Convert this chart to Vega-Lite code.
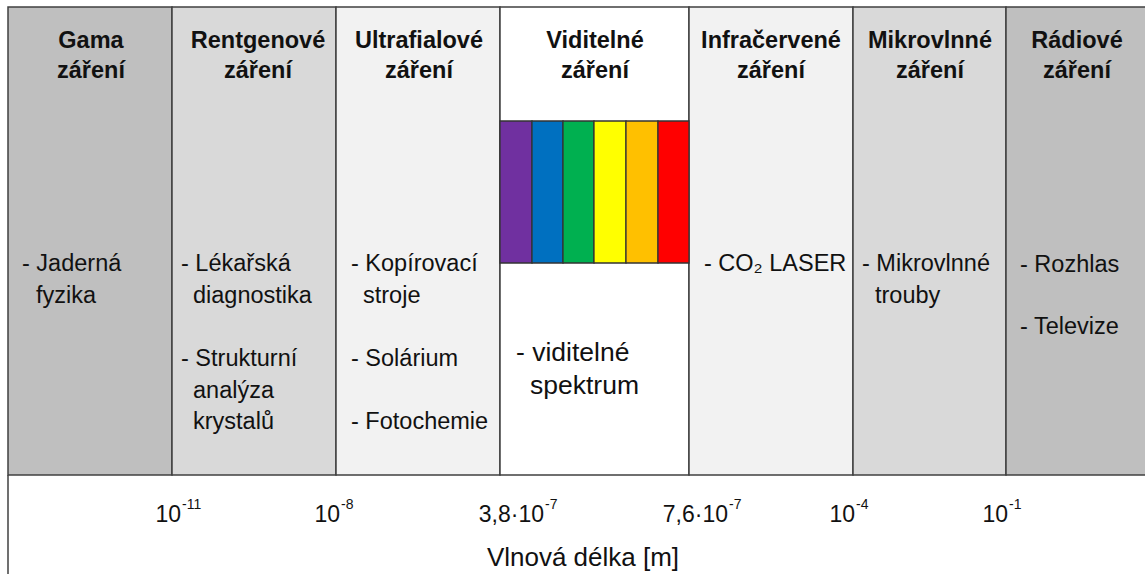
{
  "$schema": "https://vega.github.io/schema/vega-lite/v6.json",
  "width": 1145,
  "height": 574,
  "autosize": "none",
  "padding": 0,
  "background": "white",
  "config": {"view": {"stroke": null}, "font": "Liberation Sans"},
  "resolve": {"scale": {"color": "independent"}},
  "layer": [
    {
      "data": {"values": [
        {"band": "Gama záření", "x0": 8, "x1": 172},
        {"band": "Rentgenové záření", "x0": 172, "x1": 336},
        {"band": "Ultrafialové záření", "x0": 336, "x1": 500},
        {"band": "Viditelné záření", "x0": 500, "x1": 689},
        {"band": "Infračervené záření", "x0": 689, "x1": 853},
        {"band": "Mikrovlnné záření", "x0": 853, "x1": 1006},
        {"band": "Rádiové záření", "x0": 1006, "x1": 1152}
      ]},
      "mark": {"type": "rect", "stroke": "#404040", "strokeWidth": 1.5},
      "encoding": {
        "x": {"field": "x0", "type": "quantitative", "scale": {"domain": [0, 1145], "nice": false, "zero": false}, "axis": null},
        "x2": {"field": "x1"},
        "y": {"datum": 7, "type": "quantitative", "scale": {"domain": [0, 574], "nice": false, "zero": false, "reverse": true}, "axis": null},
        "y2": {"datum": 475},
        "color": {"field": "band", "type": "nominal", "legend": null,
          "scale": {"domain": ["Gama záření", "Rentgenové záření", "Ultrafialové záření", "Viditelné záření", "Infračervené záření", "Mikrovlnné záření", "Rádiové záření"],
                    "range": ["#bfbfbf", "#d9d9d9", "#f2f2f2", "#ffffff", "#f2f2f2", "#d9d9d9", "#bfbfbf"]}}
      }
    },
    {
      "data": {"values": [
        {"barva": "fialová", "x0": 500, "x1": 532},
        {"barva": "modrá", "x0": 532, "x1": 563},
        {"barva": "zelená", "x0": 563, "x1": 594},
        {"barva": "žlutá", "x0": 594, "x1": 626},
        {"barva": "oranžová", "x0": 626, "x1": 658},
        {"barva": "červená", "x0": 658, "x1": 689}
      ]},
      "mark": {"type": "rect", "stroke": "#333333", "strokeWidth": 1.3},
      "encoding": {
        "x": {"field": "x0", "type": "quantitative", "axis": null},
        "x2": {"field": "x1"},
        "y": {"datum": 121, "type": "quantitative", "axis": null},
        "y2": {"datum": 263},
        "color": {"field": "barva", "type": "nominal", "legend": null,
          "scale": {"domain": ["fialová", "modrá", "zelená", "žlutá", "oranžová", "červená"],
                    "range": ["#7030a0", "#0070c0", "#00b050", "#ffff00", "#ffc000", "#ff0000"]}}
      }
    },
    {
      "data": {"values": [
        {"x": 8, "y0": 475, "y1": 574}
      ]},
      "mark": {"type": "rule", "stroke": "#404040", "strokeWidth": 1.5},
      "encoding": {
        "x": {"field": "x", "type": "quantitative", "axis": null},
        "y": {"field": "y0", "type": "quantitative", "axis": null},
        "y2": {"field": "y1"}
      }
    },
    {
      "data": {"values": [
        {"t": "Gama", "x": 91, "y": 48},
        {"t": "záření", "x": 91, "y": 78},
        {"t": "Rentgenové", "x": 258, "y": 48},
        {"t": "záření", "x": 258, "y": 78},
        {"t": "Ultrafialové", "x": 419, "y": 48},
        {"t": "záření", "x": 419, "y": 78},
        {"t": "Viditelné", "x": 595, "y": 48},
        {"t": "záření", "x": 595, "y": 78},
        {"t": "Infračervené", "x": 771, "y": 48},
        {"t": "záření", "x": 771, "y": 78},
        {"t": "Mikrovlnné", "x": 930, "y": 48},
        {"t": "záření", "x": 930, "y": 78},
        {"t": "Rádiové", "x": 1077, "y": 48},
        {"t": "záření", "x": 1077, "y": 78}
      ]},
      "mark": {"type": "text", "font": "Liberation Sans", "fontWeight": "bold", "fontSize": 23.5, "align": "center", "baseline": "alphabetic", "color": "#111111"},
      "encoding": {
        "x": {"field": "x", "type": "quantitative", "axis": null},
        "y": {"field": "y", "type": "quantitative", "axis": null},
        "text": {"field": "t"}
      }
    },
    {
      "data": {"values": [
        {"t": "- Jaderná", "x": 22, "y": 271},
        {"t": "fyzika", "x": 36, "y": 303},
        {"t": "- Lékařská", "x": 181, "y": 271},
        {"t": "diagnostika", "x": 193, "y": 303},
        {"t": "- Strukturní", "x": 181, "y": 366},
        {"t": "analýza", "x": 193, "y": 398},
        {"t": "krystalů", "x": 193, "y": 429},
        {"t": "- Kopírovací", "x": 351, "y": 271},
        {"t": "stroje", "x": 363, "y": 303},
        {"t": "- Solárium", "x": 351, "y": 366},
        {"t": "- Fotochemie", "x": 351, "y": 429},
        {"t": "- CO₂ LASER", "x": 704, "y": 271},
        {"t": "- Mikrovlnné", "x": 862, "y": 271},
        {"t": "trouby", "x": 875, "y": 303},
        {"t": "- Rozhlas", "x": 1020, "y": 272},
        {"t": "- Televize", "x": 1020, "y": 334}
      ]},
      "mark": {"type": "text", "font": "Liberation Sans", "fontSize": 23.5, "align": "left", "baseline": "alphabetic", "color": "#111111"},
      "encoding": {
        "x": {"field": "x", "type": "quantitative", "axis": null},
        "y": {"field": "y", "type": "quantitative", "axis": null},
        "text": {"field": "t"}
      }
    },
    {
      "data": {"values": [
        {"t": "- viditelné", "x": 516, "y": 361},
        {"t": "spektrum", "x": 530, "y": 394}
      ]},
      "mark": {"type": "text", "font": "Liberation Sans", "fontSize": 26.5, "align": "left", "baseline": "alphabetic", "color": "#111111"},
      "encoding": {
        "x": {"field": "x", "type": "quantitative", "axis": null},
        "y": {"field": "y", "type": "quantitative", "axis": null},
        "text": {"field": "t"}
      }
    },
    {
      "data": {"values": [
        {"base": "10", "exp": "-11", "x": 181},
        {"base": "10", "exp": "-8", "x": 340},
        {"base": "3,8·10", "exp": "-7", "x": 544},
        {"base": "7,6·10", "exp": "-7", "x": 728},
        {"base": "10", "exp": "-4", "x": 855},
        {"base": "10", "exp": "-1", "x": 1008}
      ]},
      "layer": [
        {
          "mark": {"type": "text", "font": "Liberation Sans", "fontSize": 23, "align": "right", "baseline": "alphabetic", "color": "#111111"},
          "encoding": {
            "x": {"field": "x", "type": "quantitative", "axis": null},
            "y": {"datum": 522, "type": "quantitative", "axis": null},
            "text": {"field": "base"}
          }
        },
        {
          "mark": {"type": "text", "font": "Liberation Sans", "fontSize": 14, "align": "left", "baseline": "alphabetic", "dx": 1, "color": "#111111"},
          "encoding": {
            "x": {"field": "x", "type": "quantitative", "axis": null},
            "y": {"datum": 509, "type": "quantitative", "axis": null},
            "text": {"field": "exp"}
          }
        }
      ]
    },
    {
      "data": {"values": [{"t": "Vlnová délka [m]", "x": 583}]},
      "mark": {"type": "text", "font": "Liberation Sans", "fontSize": 26, "align": "center", "baseline": "alphabetic", "color": "#111111"},
      "encoding": {
        "x": {"field": "x", "type": "quantitative", "axis": null},
        "y": {"datum": 566, "type": "quantitative", "axis": null},
        "text": {"field": "t"}
      }
    }
  ]
}
